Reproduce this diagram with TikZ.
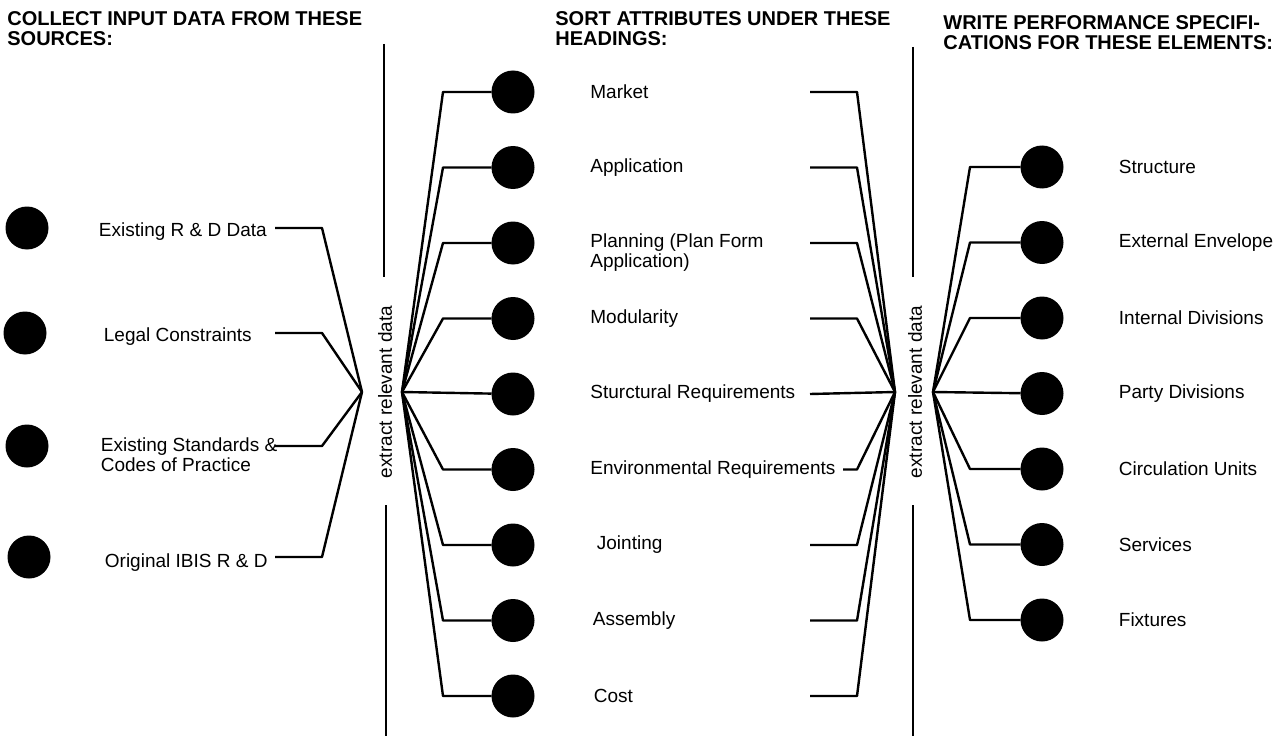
\documentclass[tikz,border=0pt]{standalone}
\usepackage{fontspec}
\setmainfont{Liberation Sans}
\usetikzlibrary{positioning}

\tikzset{
  dot/.style={circle, fill=black, inner sep=0pt, outer sep=0pt, minimum size=21.5pt},
  lbl/.style={inner sep=0pt, align=left, font=\fontsize{9.5}{10}\selectfont},
  ttl/.style={inner sep=0pt, anchor=north west, align=left, font=\bfseries\fontsize{10}{10}\selectfont},
  side/.style={lbl, rotate=90},
  link/.style={line width=1.2pt, line join=round},
  bar/.style={line width=0.9pt}
}

\begin{document}
\begin{tikzpicture}[x=0.5pt, y=-0.5pt, node distance=16.25pt and 27.75pt]
  \useasboundingbox (0,0) rectangle (1280,738);

  \node[ttl] (T1) at (7,11) {COLLECT INPUT DATA FROM THESE\\SOURCES:};
  \node[ttl] (T2) at (555,11) {SORT ATTRIBUTES UNDER THESE\\HEADINGS:};
  \node[ttl] (T3) at (943,15) {WRITE PERFORMANCE SPECIFI-\\CATIONS FOR THESE ELEMENTS:};

  \node[dot] (e1) at (27,228) {};
  \node[dot] (e2) at (25,333) {};
  \node[dot] (e3) at (27,446) {};
  \node[dot] (e4) at (29,557) {};
  \node[lbl, right=25pt of e1, yshift=-2pt] (l1) {Existing R \& D Data};
  \node[lbl, right=28.5pt of e2, yshift=-2pt] (l2) {Legal Constraints};
  \node[lbl, right=26pt of e3, yshift=-4.5pt] (l3) {Existing Standards \&\\Codes of Practice};
  \node[lbl, right=27pt of e4, yshift=-3pt] (l4) {Original IBIS R \& D};

  \node[dot] (m1) at (513,92) {};
  \node[dot, below=of m1] (m2) {};
  \node[dot, below=of m2] (m3) {};
  \node[dot, below=of m3] (m4) {};
  \node[dot, below=of m4] (m5) {};
  \node[dot, below=of m5] (m6) {};
  \node[dot, below=of m6] (m7) {};
  \node[dot, below=of m7] (m8) {};
  \node[dot, below=of m8] (m9) {};
  \node[lbl, right=of m1] (h1) {Market};
  \node[lbl, right=of m2] (h2) {Application};
  \node[lbl, right=of m3, yshift=-5pt] (h3) {Planning (Plan Form\\Application)};
  \node[lbl, right=of m4] (h4) {Modularity};
  \node[lbl, right=of m5] (h5) {Sturctural Requirements};
  \node[lbl, right=of m6] (h6) {Environmental Requirements};
  \node[lbl, right=31pt of m7] (h7) {Jointing};
  \node[lbl, right=29pt of m8] (h8) {Assembly};
  \node[lbl, right=29.5pt of m9] (h9) {Cost};

  \node[dot] (r1) at (1042,167) {};
  \node[dot, below=of r1] (r2) {};
  \node[dot, below=of r2] (r3) {};
  \node[dot, below=of r3] (r4) {};
  \node[dot, below=of r4] (r5) {};
  \node[dot, below=of r5] (r6) {};
  \node[dot, below=of r6] (r7) {};
  \node[lbl, right=27.5pt of r1] (s1) {Structure};
  \node[lbl, right=27.5pt of r2] (s2) {External Envelope};
  \node[lbl, right=27.5pt of r3] (s3) {Internal Divisions};
  \node[lbl, right=27.5pt of r4] (s4) {Party Divisions};
  \node[lbl, right=27.5pt of r5] (s5) {Circulation Units};
  \node[lbl, right=27.5pt of r6] (s6) {Services};
  \node[lbl, right=27.5pt of r7] (s7) {Fixtures};

  \node[side] (xL) at (385,392) {extract relevant data};
  \node[side] (xR) at (915,392) {extract relevant data};
  \draw[bar] (384,44) -- (384,277);
  \draw[bar] (386,505) -- (386,736);
  \draw[bar] (913,47) -- (913,277);
  \draw[bar] (913,505) -- (913,736);

  \coordinate (hubL) at (362,392);
  \coordinate (hubA) at (402,392);
  \coordinate (hubB) at (895,392);
  \coordinate (hubC) at (933,392);
  \coordinate (cL1) at (275,0);
  \coordinate (cL2) at (322,0);
  \coordinate (cA) at (443,0);
  \coordinate (cB) at (810,0);
  \coordinate (cE) at (843,0);
  \coordinate (cC) at (857,0);
  \coordinate (cD) at (970,0);

  \draw[link] (e1 -| cL1) -- (e1 -| cL2) -- (hubL);
  \draw[link] (e2 -| cL1) -- (e2 -| cL2) -- (hubL);
  \draw[link] (e3 -| cL1) -- (e3 -| cL2) -- (hubL);
  \draw[link] (e4 -| cL1) -- (e4 -| cL2) -- (hubL);

  \draw[link] (hubA) -- (m1 -| cA) -- (m1);
  \draw[link] (hubA) -- (m2 -| cA) -- (m2);
  \draw[link] (hubA) -- (m3 -| cA) -- (m3);
  \draw[link] (hubA) -- (m4 -| cA) -- (m4);
  \draw[link] (hubA) -- (m5);
  \draw[link] (hubA) -- (m6 -| cA) -- (m6);
  \draw[link] (hubA) -- (m7 -| cA) -- (m7);
  \draw[link] (hubA) -- (m8 -| cA) -- (m8);
  \draw[link] (hubA) -- (m9 -| cA) -- (m9);

  \draw[link] (m1 -| cB) -- (m1 -| cC) -- (hubB);
  \draw[link] (m2 -| cB) -- (m2 -| cC) -- (hubB);
  \draw[link] (m3 -| cB) -- (m3 -| cC) -- (hubB);
  \draw[link] (m4 -| cB) -- (m4 -| cC) -- (hubB);
  \draw[link] (m5 -| cB) -- (hubB);
  \draw[link] (m6 -| cE) -- (m6 -| cC) -- (hubB);
  \draw[link] (m7 -| cB) -- (m7 -| cC) -- (hubB);
  \draw[link] (m8 -| cB) -- (m8 -| cC) -- (hubB);
  \draw[link] (m9 -| cB) -- (m9 -| cC) -- (hubB);

  \draw[link] (hubC) -- (r1 -| cD) -- (r1);
  \draw[link] (hubC) -- (r2 -| cD) -- (r2);
  \draw[link] (hubC) -- (r3 -| cD) -- (r3);
  \draw[link] (hubC) -- (r4);
  \draw[link] (hubC) -- (r5 -| cD) -- (r5);
  \draw[link] (hubC) -- (r6 -| cD) -- (r6);
  \draw[link] (hubC) -- (r7 -| cD) -- (r7);
\end{tikzpicture}
\end{document}
